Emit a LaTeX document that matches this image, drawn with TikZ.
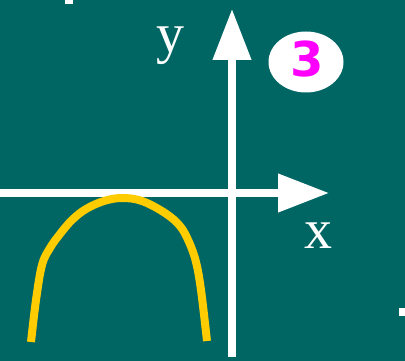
\documentclass[tikz,border=0pt]{standalone}
\usepackage{fontspec}
\setmainfont{Liberation Serif}
\newfontfamily\digitfont{DejaVu Sans}
\usetikzlibrary{arrows.meta,positioning,shapes.geometric}
\definecolor{boardgreen}{RGB}{0,102,100}
\definecolor{curveyellow}{RGB}{255,204,0}
\definecolor{tagmagenta}{RGB}{255,0,255}

\begin{document}
\begin{tikzpicture}[x=1pt, y=-1pt,
    axis/.style={white, line width=7.5pt, -{Triangle[length=51pt,width=37pt]}},
    axislabel/.style={text=white, inner sep=0pt, font=\fontsize{56}{60}\selectfont}]
  \useasboundingbox (0,0) rectangle (405,361);
  \fill[boardgreen] (0,0) rectangle (405,361);
  % leftover marks at the edges
  \fill[white] (65,0) rectangle (73,4);
  \fill[white] (399,308) rectangle (405,316);
  % axes
  \coordinate (xstart) at (0,193);
  \coordinate (xend) at (329,193);
  \coordinate (ystart) at (232,357);
  \coordinate (yend) at (232,9);
  \draw[axis] (xstart) -- (xend);
  \draw[axis] (ystart) -- (yend);
  \node[axislabel, anchor=base] (ylab) at (170,53) {y};
  \node[axislabel, anchor=base] (xlab) at (318,248) {x};
  % downward parabola
  \draw[curveyellow, line width=8pt, line cap=butt]
    plot[smooth, tension=0.6] coordinates {(31,342) (36,300) (42,265) (50,248) (60,234) (72,220)
      (86,209) (104,201) (122,198) (142,201) (165,213) (180,226) (189,242) (196,262) (201,290) (207,341)};
  % case number
  \node[ellipse, fill=white, minimum width=75pt, minimum height=61pt, inner sep=0pt] (tag) at (306,62) {};
  \node[text=tagmagenta, inner sep=0pt, font=\digitfont\bfseries\fontsize{48}{50}\selectfont] (num) at (307.5,59.5) {3};
\end{tikzpicture}
\end{document}
